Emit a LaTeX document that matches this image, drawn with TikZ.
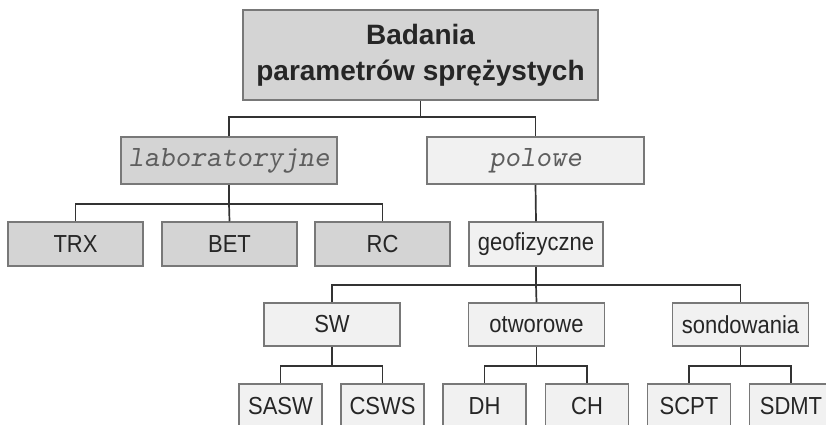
\documentclass[tikz,border=0pt]{standalone}
\usepackage{fontspec}
\setmainfont{Liberation Sans}
\usepackage{graphicx}
\usepackage{xcolor}
\usepackage{tikz}
\definecolor{boxdark}{HTML}{D4D4D4}
\definecolor{boxlight}{HTML}{F1F1F1}
\definecolor{frame}{HTML}{787878}
\definecolor{wire}{HTML}{333333}
\definecolor{courtext}{HTML}{5E5E5E}
\newcommand{\tall}[1]{\scalebox{1}[1.12]{#1}}

\begin{document}
\begin{tikzpicture}[x=1pt, y=-1pt,
    box/.style={draw=frame, line width=1.5pt, inner sep=0pt, text=black!85,
        font=\fontsize{22}{26}\selectfont},
    darkbox/.style={box, fill=boxdark},
    lightbox/.style={box, fill=boxlight},
    courbox/.style={text=courtext, font=\ttfamily\slshape\fontsize{29.5}{32}\selectfont},
    wirel/.style={draw=wire, line width=1.7pt}]
\useasboundingbox (0,0) rectangle (826,424);
\clip (0,0) rectangle (826,424);

% Top
\node[darkbox, minimum width=355pt, minimum height=90pt, align=center,
    font=\bfseries\fontsize{28}{36}\selectfont] (top) at (420.5,55)
    {Badania\\parametrów sprężystych};

% Second level
\node[darkbox, courbox, minimum width=216pt, minimum height=47pt] (lab) at (229,160.5) {laboratoryjne};
\node[lightbox, courbox, minimum width=217pt, minimum height=47pt] (pol) at (535.5,160.5) {polowe};

% Laboratory methods
\foreach \name/\x/\txt in {trx/75.5/TRX, bet/229.5/BET, rc/382.5/RC} {
    \node[darkbox, minimum width=135pt, minimum height=44pt] (\name) at (\x,244) {\tall{\txt}};
}
\node[lightbox, minimum width=134pt, minimum height=44pt] (geo) at (536,244) {\tall{geofizyczne}};

% Field methods
\foreach \name/\x/\txt in {sw/332/SW, otw/536.5/otworowe, son/740.5/sondowania} {
    \node[lightbox, minimum width=136pt, minimum height=43pt] (\name) at (\x,324.5) {\tall{\txt}};
}
\foreach \name/\x/\txt in {sasw/280.5/SASW, csws/382.5/CSWS, dh/484.5/DH, ch/587/CH, scpt/689/SCPT, sdmt/791/SDMT} {
    \node[lightbox, minimum width=83pt, minimum height=44pt] (\name) at (\x,406) {\tall{\txt}};
}

% Connectors
\coordinate (bus1) at (420.5,117);
\coordinate (bus2) at (229,204);
\coordinate (bus3) at (536,285);
\coordinate (bus4) at (332,366);
\coordinate (bus5) at (536.5,366);
\coordinate (bus6) at (740.5,366);
\draw[wirel] (top.south) -- (bus1);
\draw[wirel] (lab.north) |- (bus1) -| (pol.north);
\draw[wirel] (lab.south) -- (bus2);
\draw[wirel] (trx.north) |- (bus2) -| (rc.north);
\draw[wirel] (bus2) -- (bet.north);
\draw[wirel] (pol.south) -- (geo.north);
\draw[wirel] (geo.south) -- (bus3);
\draw[wirel] (sw.north) |- (bus3) -| (son.north);
\draw[wirel] (bus3) -- (otw.north);
\foreach \p/\a/\b/\c in {sw/sasw/csws/bus4, otw/dh/ch/bus5, son/scpt/sdmt/bus6} {
    \draw[wirel] (\p.south) -- (\c);
    \draw[wirel] (\a.north) |- (\c) -| (\b.north);
}
\end{tikzpicture}
\end{document}
